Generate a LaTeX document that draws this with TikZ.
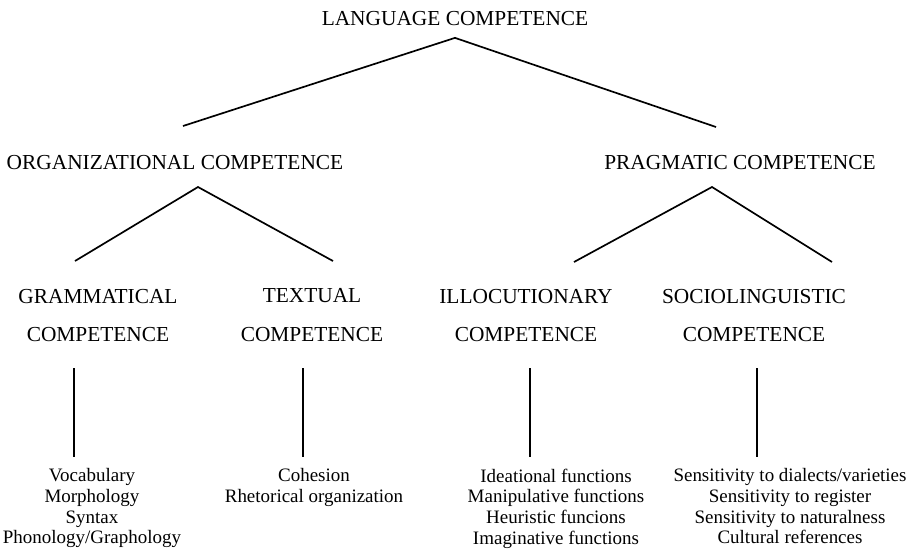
\documentclass[tikz,border=0pt]{standalone}
\usepackage{fontspec}
\setmainfont{Liberation Serif}
\usetikzlibrary{positioning}

\begin{document}
\begin{tikzpicture}
	\tikzset{head/.style={font=\fontsize{15.2}{27.7}\selectfont,align=center,inner sep=0pt},
		item/.style={font=\fontsize{13.5}{14.7}\selectfont,align=center,inner sep=0pt,anchor=north},
		branch/.style={line width=1.2pt},
		stem/.style={line width=0.8pt,shorten >=0.29cm}};
	\useasboundingbox (0,0) rectangle (22.75,-13.9);

	\node[head] (lang) at (11.375,-0.475) {LANGUAGE COMPETENCE};
	\node[head] (org) at (4.375,-4.075) {ORGANIZATIONAL COMPETENCE};
	\node[head] (prag) at (18.5,-4.075) {PRAGMATIC COMPETENCE};

	\node[head] (gram) at (2.45,-7.8875) {GRAMMATICAL\\COMPETENCE};
	\node[head] (text) at (7.8,-7.8875) {TEXTUAL\\COMPETENCE};
	\node[head] (illoc) at (13.15,-7.8875) {ILLOCUTIONARY\\COMPETENCE};
	\node[head] (socio) at (18.85,-7.8875) {SOCIOLINGUISTIC\\COMPETENCE};

	\node[item] (gramlist) at (2.3,-11.7125) {Vocabulary\\Morphology\\Syntax\\Phonology/Graphology};
	\node[item] (textlist) at (7.85,-11.7125) {Cohesion\\Rhetorical organization};
	\node[item] (illoclist) at (13.9,-11.7125) {Ideational functions\\Manipulative functions\\Heuristic funcions\\Imaginative functions};
	\node[item] (sociolist) at (19.75,-11.7125) {Sensitivity to dialects/varieties\\Sensitivity to register\\Sensitivity to naturalness\\Cultural references};

	\coordinate[below=0.285cm of lang] (langtip);
	\coordinate (orgend) at (4.575,-3.15);
	\coordinate (pragend) at (17.9,-3.175);
	\draw[branch] (orgend) -- (langtip) -- (pragend);

	\coordinate (orgtip) at (4.95,-4.675);
	\coordinate (gramend) at (1.875,-6.525);
	\coordinate (textend) at (8.325,-6.525);
	\draw[branch] (gramend) -- (orgtip) -- (textend);

	\coordinate (pragtip) at (17.8,-4.675);
	\coordinate (illocend) at (14.35,-6.55);
	\coordinate (socioend) at (20.8,-6.55);
	\draw[branch] (illocend) -- (pragtip) -- (socioend);

	\coordinate (gramstem) at (1.85,-9.2);
	\coordinate (textstem) at (7.575,-9.2);
	\coordinate (illocstem) at (13.25,-9.2);
	\coordinate (sociostem) at (18.925,-9.2);
	\draw[stem] (gramstem) -- (gramstem |- gramlist.north);
	\draw[stem] (textstem) -- (textstem |- textlist.north);
	\draw[stem] (illocstem) -- (illocstem |- illoclist.north);
	\draw[stem] (sociostem) -- (sociostem |- sociolist.north);
\end{tikzpicture}
\end{document}
